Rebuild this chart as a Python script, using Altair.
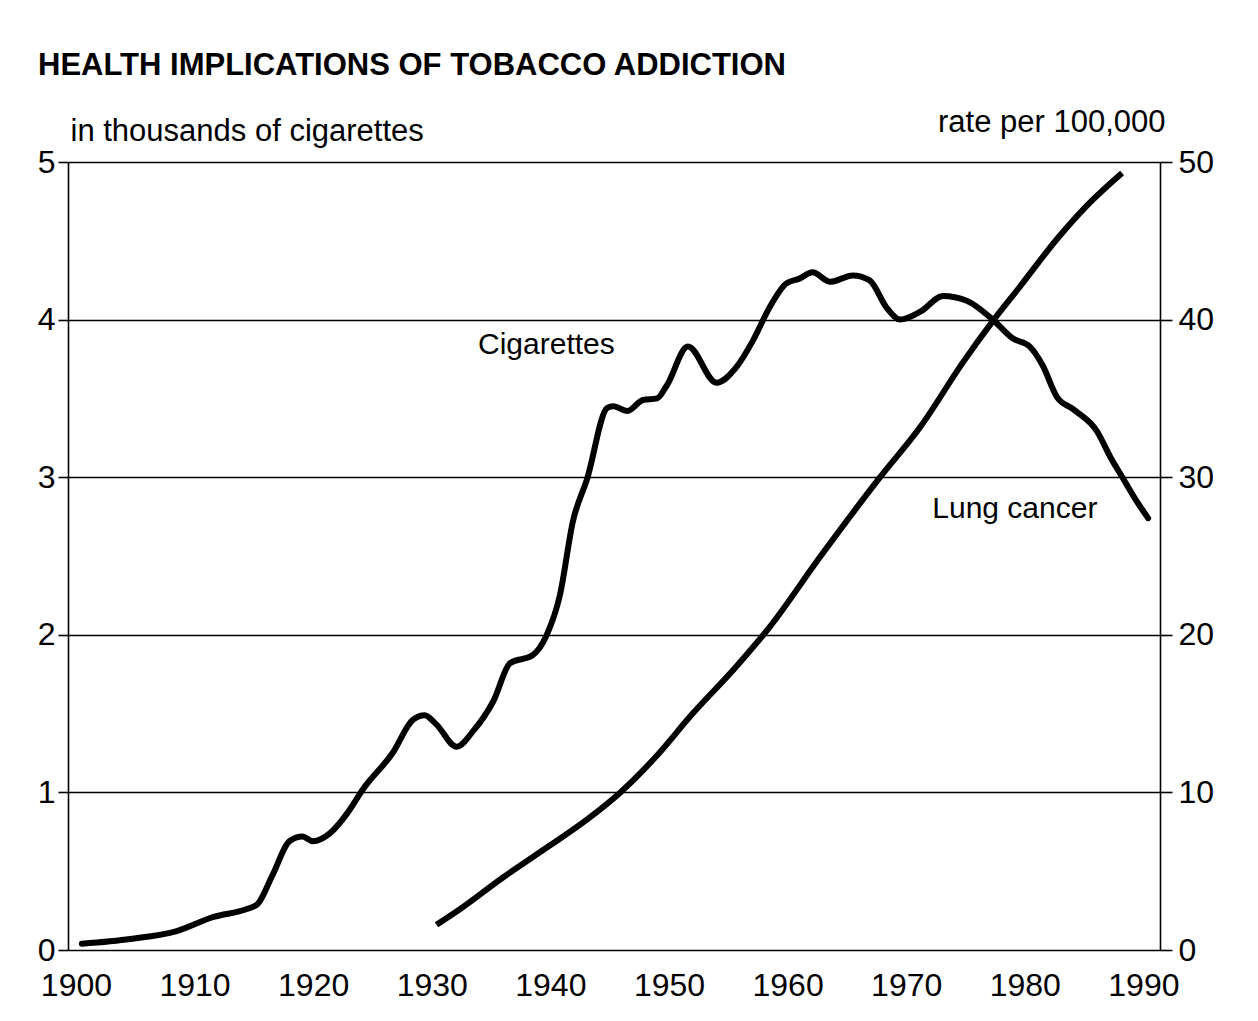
import altair as alt
import pandas as pd

# ---- data ----
cig_years = [1900.5, 1904.6, 1908.5, 1911.6, 1914.4, 1915.3, 1916.6, 1918.0, 1919.1, 1920.0,
             1921.4, 1922.9, 1924.2, 1926.7, 1928.4, 1929.4, 1930.4, 1932.1, 1933.5, 1935.2,
             1936.6, 1938.5, 1939.7, 1940.8, 1941.9, 1943.1, 1944.8, 1945.3, 1946.5, 1947.8,
             1949.0, 1949.8, 1951.6, 1954.0, 1955.7, 1957.1, 1958.5, 1959.9, 1961.0, 1962.1,
             1963.6, 1965.5, 1966.9, 1968.4, 1969.5, 1971.2, 1973.1, 1975.1, 1977.3, 1979.0,
             1980.4, 1981.5, 1982.7, 1984.1, 1986.1, 1987.2, 1988.3, 1989.5, 1990.4]
cig_values = [0.04, 0.07, 0.12, 0.21, 0.26, 0.29, 0.48, 0.69, 0.72, 0.69,
              0.74, 0.87, 1.02, 1.25, 1.46, 1.49, 1.43, 1.29, 1.39, 1.58,
              1.82, 1.87, 2.00, 2.25, 2.72, 2.99, 3.44, 3.45, 3.42, 3.49,
              3.50, 3.58, 3.83, 3.60, 3.70, 3.87, 4.08, 4.23, 4.26, 4.30,
              4.24, 4.28, 4.25, 4.07, 4.00, 4.05, 4.15, 4.12, 4.00, 3.88,
              3.83, 3.71, 3.51, 3.43, 3.29, 3.13, 2.99, 2.84, 2.74]

lung_years = [1930.4, 1932.4, 1936.0, 1939.7, 1943.3, 1945.9, 1948.7, 1952.0, 1955.7, 1958.5,
              1962.7, 1967.8, 1971.2, 1974.8, 1977.3, 1979.6, 1982.7, 1985.2, 1988.2]
lung_values = [1.6, 2.6, 4.6, 6.5, 8.4, 10.0, 12.1, 15.0, 18.0, 20.5,
               24.9, 30.0, 33.2, 37.3, 39.9, 42.1, 45.1, 47.2, 49.3]

x_ticks = [1900, 1910, 1920, 1930, 1940, 1950, 1960, 1970, 1980, 1990]
left_ticks = [0, 1, 2, 3, 4, 5]
right_ticks = [0, 10, 20, 30, 40, 50]

cig_label = {"year": [1933.9], "value": [3.84], "text": ["Cigarettes"]}
lung_label = {"year": [1972.2], "rate": [28.0], "text": ["Lung cancer"]}

title_text = "HEALTH IMPLICATIONS OF TOBACCO ADDICTION"
left_title = "in thousands of cigarettes"
right_title = "rate per 100,000"

FONT = "Liberation Sans"

cig_df = pd.DataFrame({"year": cig_years, "value": cig_values})
lung_df = pd.DataFrame({"year": lung_years, "rate": lung_values})

x_scale = alt.Scale(domain=[1899.33, 1991.4], nice=False, zero=False)
cig_scale = alt.Scale(domain=[0, 5], nice=False, zero=True)
lung_scale = alt.Scale(domain=[0, 50], nice=False, zero=True)

x_axis = alt.Axis(values=x_ticks, format="d", title=None, domain=False, ticks=False,
                  grid=False, labelFontSize=32, labelPadding=20)

left_axis = alt.Axis(orient="left", values=left_ticks, format="d",
                     title=left_title, titleAngle=0, titleAlign="left",
                     titleBaseline="alphabetic", titleX=2, titleY=-22,
                     labelPadding=3, tickSize=10, grid=True)

right_axis = alt.Axis(orient="right", values=right_ticks, format="d",
                      title=right_title, titleAngle=0, titleAlign="right",
                      titleBaseline="alphabetic", titleX=5, titleY=-31,
                      labelPadding=6, tickSize=12, grid=False)

cig_line = alt.Chart(cig_df).mark_line(
    color="black", strokeWidth=6, interpolate="monotone", strokeCap="round", strokeJoin="round"
).encode(
    x=alt.X("year:Q", scale=x_scale, axis=x_axis),
    y=alt.Y("value:Q", scale=cig_scale, axis=left_axis),
)

lung_line = alt.Chart(lung_df).mark_line(
    color="black", strokeWidth=6, interpolate="monotone", strokeJoin="round"
).encode(
    x=alt.X("year:Q", scale=x_scale),
    y=alt.Y("rate:Q", scale=lung_scale, axis=right_axis),
)

cig_text = alt.Chart(pd.DataFrame(cig_label)).mark_text(
    align="left", baseline="middle", fontSize=30, font=FONT, color="black"
).encode(
    x=alt.X("year:Q", scale=x_scale),
    y=alt.Y("value:Q", scale=cig_scale, axis=None),
    text="text:N",
)

lung_text = alt.Chart(pd.DataFrame(lung_label)).mark_text(
    align="left", baseline="middle", fontSize=30, font=FONT, color="black"
).encode(
    x=alt.X("year:Q", scale=x_scale),
    y=alt.Y("rate:Q", scale=lung_scale, axis=None),
    text="text:N",
)

chart = alt.layer(
    cig_line, lung_line, cig_text, lung_text
).resolve_scale(y="independent").properties(
    width=1092,
    height=788,
    autosize=alt.AutoSizeParams(type="none"),
    padding={"left": 60, "top": 154, "right": 90, "bottom": 60},
    background="white",
    title=alt.TitleParams(title_text, anchor="start", frame="group", orient="top",
                          fontSize=31, fontWeight="bold", font=FONT, color="black",
                          offset=0, dx=-30, dy=-24),
).configure_view(
    stroke=None
).configure_axis(
    labelFont=FONT, labelFontSize=32, labelColor="black",
    titleFont=FONT, titleFontSize=31, titleFontWeight="normal", titleColor="black",
    domainColor="black", domainWidth=1.6,
    tickColor="black", tickWidth=1.6,
    gridColor="black", gridWidth=1.4, gridOpacity=1,
)

chart.save("out.html", embed_options={"renderer": "svg", "actions": False})
